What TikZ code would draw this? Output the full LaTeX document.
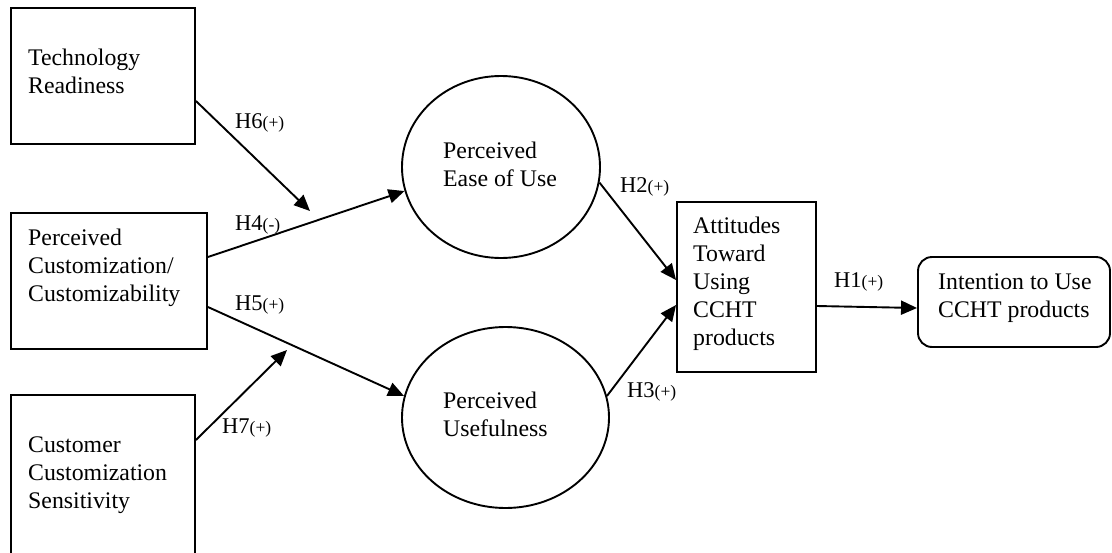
\documentclass[tikz,border=0pt]{standalone}
\usepackage{fontspec}
\setmainfont{Liberation Serif}
\usetikzlibrary{arrows.meta,shapes.geometric}
\begin{document}
\begin{tikzpicture}[x=1pt,y=-1pt,
  box/.style={draw,line width=1.9pt,rectangle,inner sep=0pt},
  oval/.style={draw,line width=1.9pt,ellipse,inner sep=0pt},
  txt/.style={anchor=north west,inner sep=0pt,align=left,font=\fontsize{23.8}{28}\selectfont},
  hyp/.style={anchor=base west,inner sep=0pt,font=\fontsize{22.5}{26}\selectfont},
  link/.style={line width=1.9pt,-{Triangle[length=16pt,width=14pt]}}]
\useasboundingbox (0,0) rectangle (1112,552);
\clip (0,0) rectangle (1112,552);
% boxes
\node[box,minimum width=184pt,minimum height=136pt] (tr) at (103,76) {};
\node[box,minimum width=196pt,minimum height=136pt] (pc) at (109,281) {};
\node[box,minimum width=184pt,minimum height=170pt] (ccs) at (103,480) {};
\node[oval,minimum width=198pt,minimum height=182pt] (peu) at (501,167) {};
\node[oval,minimum width=207pt,minimum height=181pt] (pu) at (505.5,417.5) {};
\node[box,minimum width=139pt,minimum height=170pt] (att) at (746.5,287) {};
\node[box,rounded corners=14pt,minimum width=192pt,minimum height=90pt] (int) at (1014,302) {};
% texts
\node[txt] (trt) at (28,49) {Technology\\Readiness};
\node[txt] (pct) at (28,229) {Perceived\\Customization/\\Customizability};
\node[txt] (ccst) at (28,437) {Customer\\Customization\\Sensitivity};
\node[txt] (peut) at (443,142) {Perceived\\Ease of Use};
\node[txt] (put) at (443,392) {Perceived\\Usefulness};
\node[txt] (attt) at (693,217) {Attitudes\\Toward\\Using\\CCHT\\products};
\node[txt] (intt) at (938,274) {Intention to Use\\CCHT products};
% connectors
\coordinate (m1) at (310,211);
\coordinate (m2) at (287,350);
\draw[link] ([yshift=-25pt]tr.east) -- (m1);
\draw[link] ([yshift=24pt]pc.east) -- (peu.194);
\draw[link] ([yshift=-26pt]pc.east) -- (pu.168);
\draw[link] ([yshift=40pt]ccs.east) -- (m2);
\draw[link] (peu.-9) -- ([yshift=7pt]att.west);
\draw[link] (pu.12) -- ([yshift=-18pt]att.west);
\draw[link] ([yshift=-19pt]att.east) -- ([yshift=-6pt]int.west);
% labels
\newcommand{\hsmall}[1]{{\fontsize{17.5}{20}\selectfont(#1)}}
\node[hyp] (h6) at (235,128) {H6\hsmall{+}};
\node[hyp] (h4) at (235,230) {H4\hsmall{-}};
\node[hyp] (h5) at (235,310) {H5\hsmall{+}};
\node[hyp] (h7) at (222,433) {H7\hsmall{+}};
\node[hyp] (h2) at (620,192) {H2\hsmall{+}};
\node[hyp] (h3) at (627,397) {H3\hsmall{+}};
\node[hyp] (h1) at (834,287) {H1\hsmall{+}};
\end{tikzpicture}
\end{document}
